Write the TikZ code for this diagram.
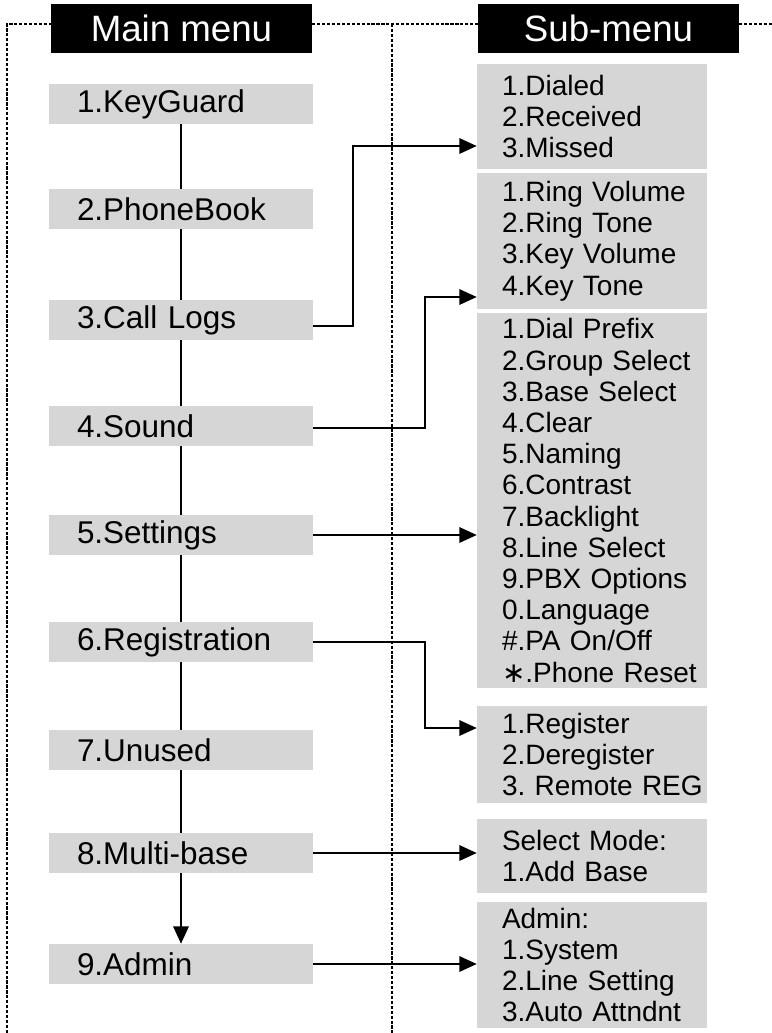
\documentclass[tikz,border=0pt]{standalone}
\usepackage{fontspec}
\setmainfont{Liberation Sans}
\newfontfamily\dejavu{DejaVu Sans}
\usetikzlibrary{arrows.meta}
\definecolor{boxgray}{RGB}{214,214,214}
\frenchspacing
\newcommand\subl[1]{\frenchspacing\leftskip=18.75pt\relax\rightskip=-15pt plus 1fil\relax #1\par}
\begin{document}
\begin{tikzpicture}[x=0.75pt,y=-0.75pt,
  dsh/.style={line width=1.4pt,dash pattern=on 2.4pt off 1.3pt},
  conn/.style={line width=1.5pt},
  arr/.style={line width=1.5pt,-{Triangle[length=13pt,width=11.5pt]}},
  head/.style={fill=black,text=white,minimum width=195.75pt,minimum height=36.75pt,inner sep=0pt,
    font=\fontsize{27.5pt}{30pt}\selectfont},
  mbox/.style={fill=boxgray,minimum width=198pt,minimum height=30pt,inner xsep=0pt,inner ysep=0pt,
    text width=156pt,align=left,font=\fontsize{23.6pt}{28pt}\selectfont},
  sbox/.style={fill=boxgray,text width=172.5pt,inner xsep=0pt,inner ysep=0pt,align=left,
    font=\fontsize{21pt}{23.4pt}\selectfont}]
\useasboundingbox (0,0) rectangle (772,1033);
% frame lines
\coordinate (tl) at (7,24);
\coordinate (bl) at (7,1033);
\coordinate (tr) at (772,24);
\coordinate (mt) at (392,24);
\coordinate (mbot) at (392,1033);
\node[head] (mh) at (181.5,28.5) {Main menu};
\node[head] (sh) at (608.5,28.5) {Sub-menu};
\draw[dsh] (bl) -- (tl) -- (tl -| mh.west);
\draw[dsh] (tl -| mh.east) -- (tl -| sh.west);
\draw[dsh] (tl -| sh.east) -- (tr);
\draw[dsh] (mt) -- (mbot);
% main menu
\node[mbox] (kg) at (181,104) {1.KeyGuard};
\node[mbox] (pb) at (181,209) {2.PhoneBook};
\node[mbox] (cl) at (181,320) {3.Call Logs};
\node[mbox] (so) at (181,426) {4.Sound};
\node[mbox] (se) at (181,535) {5.Settings};
\node[mbox] (re) at (181,642) {6.Registration};
\node[mbox] (un) at (181,750) {7.Unused};
\node[mbox] (mb) at (181,853) {8.Multi-base};
\node[mbox] (ad) at (181,964) {9.Admin};
% sub menus
\node[sbox,minimum height=78.75pt] (s1) at (592,116.5) {\subl{1.Dialed\\2.Received\\3.Missed}};
\node[sbox,minimum height=102pt] (s2) at (592,241) {\subl{1.Ring Volume\\2.Ring Tone\\3.Key Volume\\4.Key Tone}};
\node[sbox,minimum height=281.25pt] (s3) at (592,500.5) {\subl{1.Dial Prefix\\2.Group Select\\3.Base Select\\4.Clear\\5.Naming\\6.Contrast\\7.Backlight\\8.Line Select\\9.PBX Options\\0.Language\\\#.PA On/Off\\{\dejavu ∗}.Phone Reset}};
\node[sbox,minimum height=72.75pt] (s4) at (592,754.5) {\subl{1.Register\\2.Deregister\\3. Remote REG}};
\node[sbox,minimum height=55.5pt] (s5) at (592,856) {\subl{Select Mode:\\1.Add Base}};
\node[sbox,minimum height=94.5pt] (s6) at (592,965) {\subl{Admin:\\1.System\\2.Line Setting\\3.Auto Attndnt}};
% main chain
\draw[conn] (kg) -- (pb);
\draw[conn] (pb) -- (cl);
\draw[conn] (cl) -- (so);
\draw[conn] (so) -- (se);
\draw[conn] (se) -- (re);
\draw[conn] (re) -- (un);
\draw[conn] (un) -- (mb);
\draw[arr] (mb) -- (ad);
% to submenus
\draw[arr] ([yshift=-4.5pt]cl.east) -- ++(40,0) |- ([yshift=-22.125pt]s1.west);
\draw[arr] ([yshift=-1.5pt]so.east) -- ++(112,0) |- ([yshift=-42pt]s2.west);
\draw[arr] (se.east) -- (se.east -| s3.west);
\draw[arr] (re.east) -- ++(112,0) |- ([yshift=19.875pt]s4.west);
\draw[arr] (mb.east) -- (mb.east -| s5.west);
\draw[arr] (ad.east) -- (ad.east -| s6.west);
\end{tikzpicture}
\end{document}
